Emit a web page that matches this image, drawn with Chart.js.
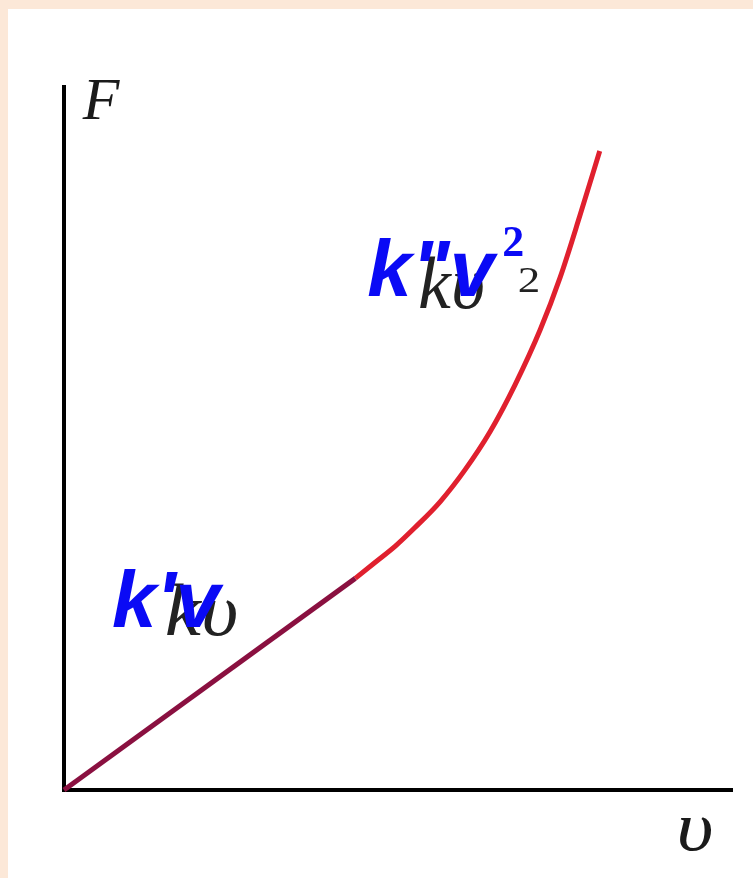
<!DOCTYPE html>
<html>
<head>
<meta charset="utf-8">
<script src="https://cdn.jsdelivr.net/npm/chart.js@4.4.1/dist/chart.umd.min.js"></script>
<style>
  html, body { margin: 0; padding: 0; background: #fce8d8; width: 753px; height: 878px; overflow: hidden; }
  #panel { position: absolute; left: 8px; top: 9px; width: 745px; height: 869px; background: #ffffff; }
  canvas { display: block; }
</style>
</head>
<body>
<div id="panel"><canvas id="chart" width="745" height="869"></canvas></div>
<script>
// Low-speed regime: drag grows linearly with speed
const speedLinear = [0, 4.36];
const dragLinear = [0, 3.01];

// High-speed regime: drag grows with the square of speed
const speedQuadratic = [4.36, 4.66, 4.96, 5.25, 5.63, 6.00, 6.38, 6.75, 7.13, 7.43, 7.72, 8.02];
const dragQuadratic  = [3.01, 3.24, 3.47, 3.73, 4.10, 4.55, 5.10, 5.76, 6.55, 7.30, 8.16, 9.09];

// Axis names
const axisNameY = 'F';
const axisNameX = 'υ';

// Formula labels
const formulaLow = 'kυ';
const formulaHigh = 'kυ';
const formulaHighPower = '2';
const annotLow = "k'v";
const annotHigh = 'k"v';
const annotHighPower = '2';

const toPoints = (xs, ys) => xs.map((x, i) => ({ x: x, y: ys[i] }));

// Text placed in data coordinates of the chart
const textItems = [
  { text: axisNameY, x: 0.28, y: 9.54, font: 'italic 60px "Liberation Serif"', color: '#1a1a1a' },
  { text: axisNameX, x: 9.17, y: -0.85, font: 'italic 70px "Liberation Serif"', color: '#1a1a1a', sx: 1.15 },
  { text: formulaLow, x: 1.51, y: 2.20, font: 'italic 74px "Liberation Serif"', color: '#222222', sx: 1.1 },
  { text: formulaHigh, x: 5.30, y: 6.85, font: 'italic 74px "Liberation Serif"', color: '#222222', sx: 1.0,
    sup: formulaHighPower, supFont: '36px "Liberation Serif"', supDx: 33, supDy: -16, supSx: 1.25 },
  { text: annotLow, x: 0.72, y: 2.32, font: 'bold italic 80px "Liberation Sans"', color: '#0a0af5' },
  { text: annotHigh, x: 4.54, y: 7.03, font: 'bold italic 80px "Liberation Sans"', color: '#0a0af5',
    sup: annotHighPower, supFont: 'bold 44px "Liberation Serif"', supDx: 8, supDy: -40 }
];

const textPlugin = {
  id: 'formulaText',
  afterDatasetsDraw(chart) {
    const ctx = chart.ctx;
    const xs = chart.scales.x, ys = chart.scales.y;
    ctx.save();
    ctx.textBaseline = 'alphabetic';
    ctx.textAlign = 'left';
    textItems.forEach(t => {
      const px = xs.getPixelForValue(t.x);
      const py = ys.getPixelForValue(t.y);
      const sx = t.sx || 1;
      ctx.font = t.font;
      ctx.fillStyle = t.color;
      ctx.save();
      ctx.translate(px, py);
      ctx.scale(sx, 1);
      ctx.fillText(t.text, 0, 0);
      ctx.restore();
      if (t.sup) {
        const w = ctx.measureText(t.text).width * sx;
        const ssx = t.supSx || 1;
        ctx.font = t.supFont;
        ctx.save();
        ctx.translate(px + w + t.supDx, py + t.supDy);
        ctx.scale(ssx, 1);
        ctx.fillText(t.sup, 0, 0);
        ctx.restore();
      }
    });
    ctx.restore();
  }
};

new Chart(document.getElementById('chart'), {
  type: 'scatter',
  data: {
    datasets: [
      {
        data: toPoints(speedLinear, dragLinear),
        showLine: true,
        borderColor: '#8a1040',
        borderWidth: 5,
        pointRadius: 0,
        clip: false
      },
      {
        data: toPoints(speedQuadratic, dragQuadratic),
        showLine: true,
        borderColor: '#e0202e',
        borderWidth: 5,
        pointRadius: 0,
        cubicInterpolationMode: 'monotone',
        clip: false
      }
    ]
  },
  options: {
    responsive: false,
    animation: false,
    events: [],
    layout: { padding: { left: 56, top: 78, right: 21, bottom: 88 } },
    plugins: { legend: { display: false }, tooltip: { enabled: false } },
    scales: {
      x: {
        type: 'linear', min: 0, max: 10,
        grid: { display: false },
        ticks: { display: false },
        border: { display: true, color: '#000000', width: 4 },
        afterFit(scale) { scale.height = 0; }
      },
      y: {
        type: 'linear', min: 0, max: 10,
        grid: { display: false },
        ticks: { display: false },
        border: { display: true, color: '#000000', width: 4 },
        afterFit(scale) { scale.width = 0; }
      }
    }
  },
  plugins: [textPlugin]
});
</script>
</body>
</html>
